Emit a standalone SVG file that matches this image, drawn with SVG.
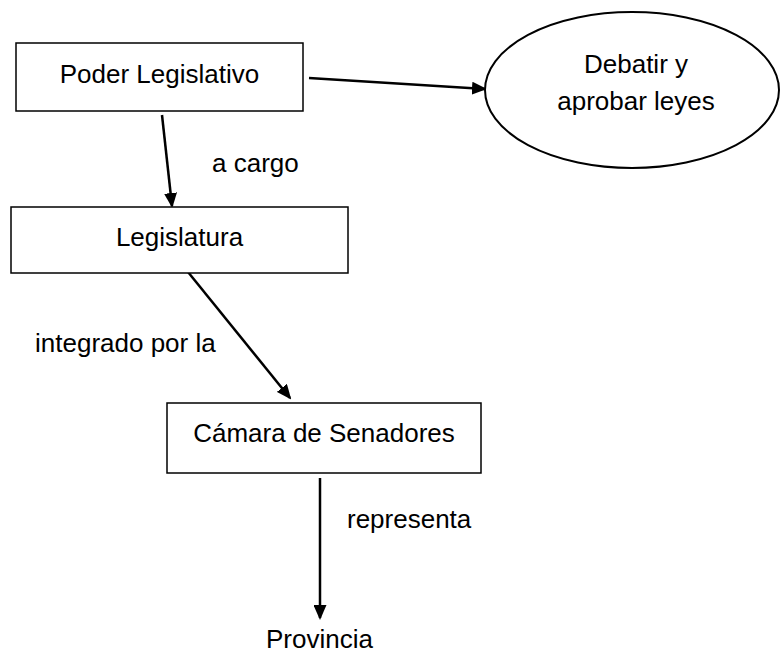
<svg xmlns="http://www.w3.org/2000/svg" width="780" height="653" viewBox="0 0 780 653">
  <defs>
    <style>
      .box { fill: #ffffff; stroke: #000000; stroke-width: 1.5; }
      .ell { fill: #ffffff; stroke: #000000; stroke-width: 2; }
      .lbl { font-family: "Liberation Sans", Arial, sans-serif; font-size: 26px; fill: #000000; }
      .mid { text-anchor: middle; }
      .conn { stroke: #000000; stroke-width: 2.5; fill: none; marker-end: url(#arrow); }
    </style>
    <marker id="arrow" markerUnits="userSpaceOnUse" markerWidth="15" markerHeight="13" refX="13" refY="6.5" orient="auto">
      <path d="M0,0 L15,6.5 L0,13 z" fill="#000000"/>
    </marker>
  </defs>
  <rect width="780" height="653" fill="#ffffff"/>

  <g id="connectors">
    <line class="conn" x1="309" y1="78" x2="485" y2="89"/>
    <line class="conn" x1="162" y1="115" x2="172" y2="206"/>
    <line class="conn" x1="188" y1="272" x2="290" y2="398"/>
    <line class="conn" x1="320" y1="478" x2="320" y2="618"/>
    <text class="lbl" x="212" y="172">a cargo</text>
    <text class="lbl" x="35" y="352">integrado por la</text>
    <text class="lbl" x="347" y="528">representa</text>
  </g>

  <g id="poder-legislativo">
    <rect class="box" x="16" y="43" width="287" height="68"/>
    <text class="lbl mid" x="159.5" y="83">Poder Legislativo</text>
  </g>

  <g id="debatir">
    <ellipse class="ell" cx="632" cy="90" rx="147" ry="78"/>
    <text class="lbl mid" x="636" y="73">Debatir y</text>
    <text class="lbl mid" x="636" y="110">aprobar leyes</text>
  </g>

  <g id="legislatura">
    <rect class="box" x="11" y="207" width="337" height="66"/>
    <text class="lbl mid" x="179.5" y="246">Legislatura</text>
  </g>

  <g id="camara">
    <rect class="box" x="167" y="403" width="314" height="70"/>
    <text class="lbl mid" x="324" y="442">Cámara de Senadores</text>
  </g>

  <g id="provincia">
    <text class="lbl mid" x="319.5" y="648">Provincia</text>
  </g>
</svg>
